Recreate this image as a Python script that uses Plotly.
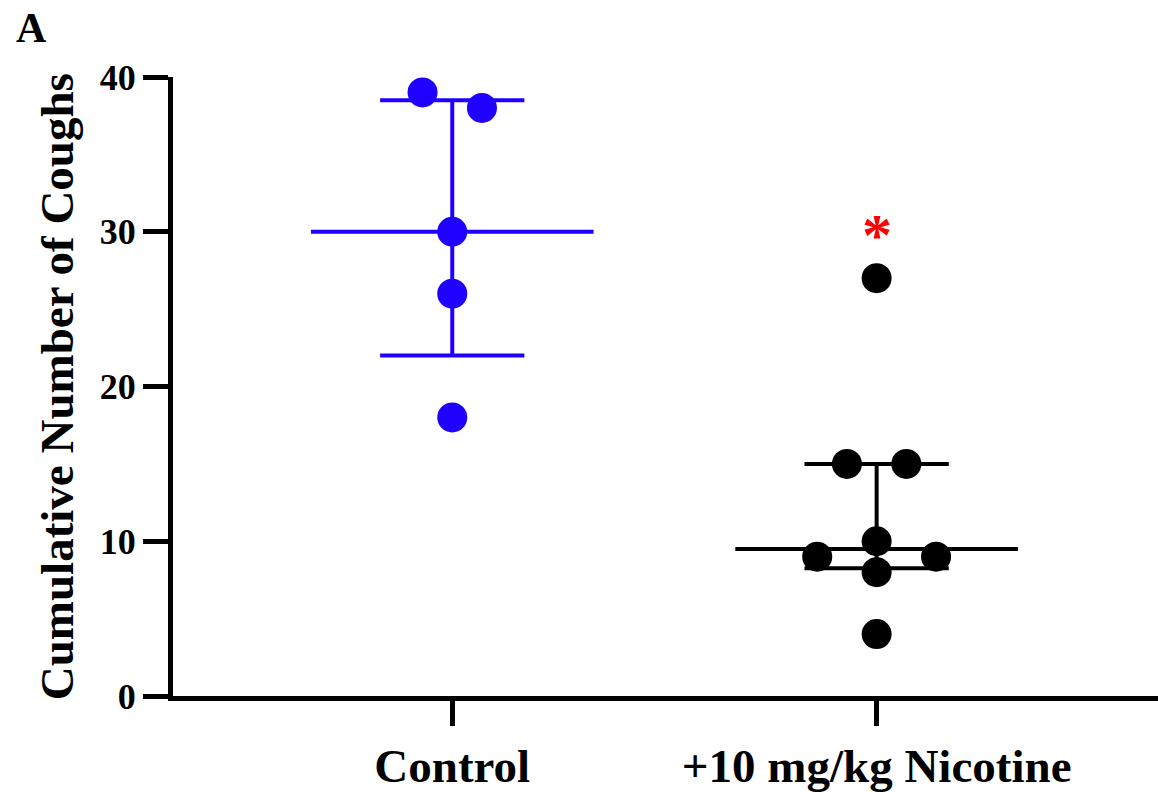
import plotly.graph_objects as go

categories = ["Control", "+10 mg/kg Nicotine"]
control_values = [39, 38, 30, 26, 18]
control_offsets = [-0.07, 0.07, 0.0, 0.0, 0.0]
nicotine_values = [27, 15, 15, 10, 9, 9, 8, 4]
nicotine_offsets = [0.0, -0.07, 0.07, 0.0, -0.14, 0.14, 0.0, 0.0]
medians = [30, 9.5]
q1 = [22, 8.25]
q3 = [38.5, 15]
colors = ["#1f00ff", "#000000"]
y_ticks = [0, 10, 20, 30, 40]

FONT = "Liberation Serif, Times New Roman, serif"
fig = go.Figure()

median_half = 0.333
cap_half = 0.17
for i, c in enumerate(colors):
    fig.add_trace(go.Scatter(x=[i - median_half, i + median_half], y=[medians[i], medians[i]],
                             mode="lines", line=dict(color=c, width=4), showlegend=False,
                             hoverinfo="skip", cliponaxis=False))
    fig.add_trace(go.Scatter(x=[i - cap_half, i + cap_half, None, i, i, None, i - cap_half, i + cap_half],
                             y=[q3[i], q3[i], None, q3[i], q1[i], None, q1[i], q1[i]],
                             mode="lines", line=dict(color=c, width=4), showlegend=False,
                             hoverinfo="skip", cliponaxis=False))

groups = [(control_values, control_offsets), (nicotine_values, nicotine_offsets)]
for i, (vals, offs) in enumerate(groups):
    fig.add_trace(go.Scatter(x=[i + o for o in offs], y=vals, mode="markers",
                             marker=dict(color=colors[i], size=30, line=dict(width=0)),
                             showlegend=False, cliponaxis=False, name=categories[i]))

fig.add_annotation(x=1, y=30.4, xref="x", yref="y", text="*", showarrow=False,
                   font=dict(family=FONT, size=60, color="#ff0000", weight="bold"),
                   yanchor="middle", yshift=-9)

fig.add_annotation(x=-0.118, y=0.5, xref="paper", yref="paper", text="Cumulative Number of Coughs",
                   textangle=-90, showarrow=False, xanchor="center", yanchor="middle",
                   font=dict(family=FONT, size=47, color="black", weight="bold"))
fig.add_annotation(x=-0.161, y=1.079, xref="paper", yref="paper", text="A", showarrow=False,
                   xanchor="left", yanchor="middle",
                   font=dict(family=FONT, size=42, color="black", weight="bold"))

fig.update_layout(
    width=1158, height=792,
    margin=dict(l=173, r=0, t=77, b=92),
    plot_bgcolor="white", paper_bgcolor="white",
    font=dict(family=FONT, color="black", weight="bold"),
    xaxis=dict(range=[-0.658, 1.663], tickmode="array", tickvals=[0, 1], ticktext=categories,
               showgrid=False, zeroline=False, showline=True, linecolor="black", linewidth=5,
               ticks="outside", ticklen=25, tickwidth=5, tickcolor="black",
               tickfont=dict(family=FONT, size=47, color="black", weight="bold")),
    yaxis=dict(range=[0, 40], tickmode="array", tickvals=y_ticks,
               showgrid=False, zeroline=False, showline=True, linecolor="black", linewidth=5,
               ticks="outside", ticklen=25, tickwidth=5, tickcolor="black",
               tickfont=dict(family=FONT, size=36, color="black", weight="bold")),
)

fig.write_html("out.html", config={"displayModeBar": False},
               post_script="document.body.style.margin='0';document.body.style.overflow='hidden';")
